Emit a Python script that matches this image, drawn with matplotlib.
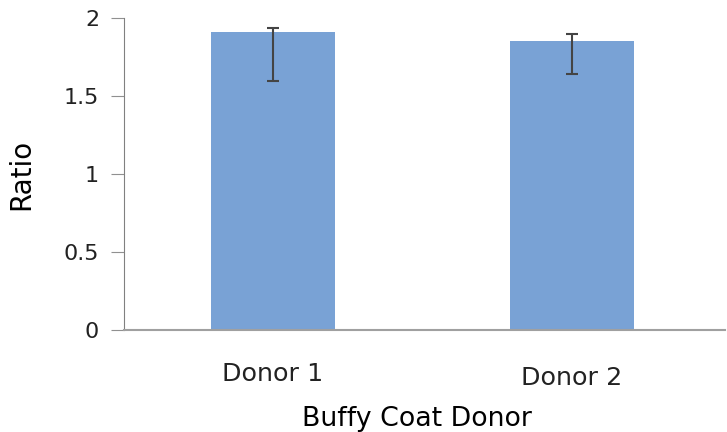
import matplotlib.pyplot as plt
import matplotlib as mpl
from matplotlib.transforms import ScaledTranslation
import numpy as np

donors = ["Donor 1", "Donor 2"]
ratio = [1.91, 1.853]
err_low = [1.598, 1.643]   # lower end of error bar
err_high = [1.938, 1.899]  # upper end of error bar

mpl.rcParams['font.family'] = ['DejaVu Sans']
mpl.rcParams['text.color'] = '#222222'

fig = plt.figure(figsize=(7.27, 4.32), dpi=100)
ax = fig.add_axes([0.1706, 0.2361, 0.8266, 0.7222])

x = np.arange(len(donors))
yerr = [np.array(ratio) - np.array(err_low), np.array(err_high) - np.array(ratio)]
ax.bar(x, ratio, width=0.415, color="#79a2d5")
ax.errorbar(x, ratio, yerr=yerr, fmt='none', ecolor="#444444", elinewidth=1.5,
            capsize=4, capthick=1.5)

ax.set_xlim(-0.498, 1.512)
ax.set_ylim(0, 2)
ax.set_yticks([0, 0.5, 1, 1.5, 2])
ax.set_yticklabels(["0", "0.5", "1", "1.5", "2"])
ax.set_xticks(x)
ax.set_xticklabels(donors)

ax.spines['top'].set_visible(False)
ax.spines['right'].set_visible(False)
ax.spines['left'].set_color('#808080')
ax.spines['bottom'].set_color('#a0a0a0')
ax.spines['bottom'].set_linewidth(1.5)

ax.tick_params(axis='y', length=9.4, color='#909090', pad=8.6, labelsize=16, labelcolor='#222222')
ax.tick_params(axis='x', length=0, pad=23, labelsize=18.3, labelcolor='#222222')

# second category label sits a little lower in the original
lbl = ax.get_xticklabels()[1]
lbl.set_transform(lbl.get_transform() + ScaledTranslation(0, -4 / 100, fig.dpi_scale_trans))

ax.set_ylabel("Ratio", fontsize=20, labelpad=20)
ax.set_xlabel("Buffy Coat Donor", fontsize=19.3)
ax.xaxis.set_label_coords(0.488, -0.245)

plt.savefig("out.png", dpi=100)
